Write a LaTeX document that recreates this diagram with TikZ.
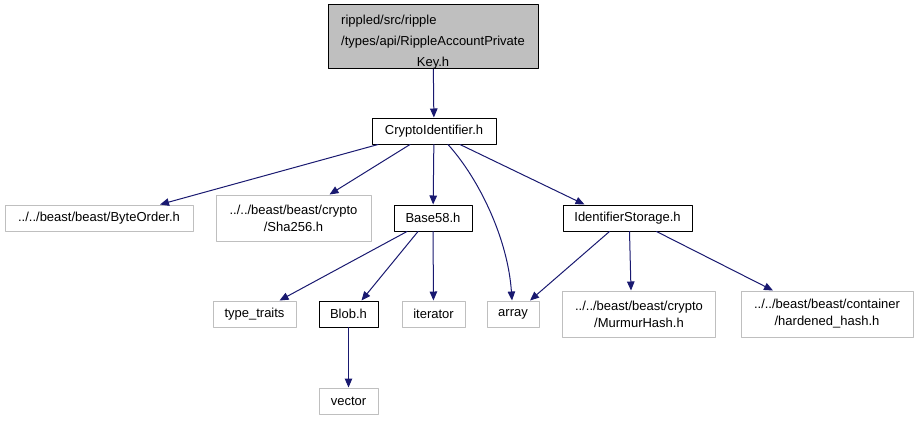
\documentclass[tikz,border=0pt]{standalone}
\usepackage{fontspec}
\setmainfont{Liberation Sans}
\usetikzlibrary{arrows.meta}
\definecolor{edgeblue}{HTML}{191970}
\definecolor{extgray}{HTML}{BFBFBF}

\begin{document}
\begin{tikzpicture}[x=1pt,y=-1pt,>={Triangle[length=9pt,width=7.5pt]},
    line cap=round,line join=round,
    hdr/.style={draw=black,line width=1pt,inner sep=0pt,align=center,
      font=\fontsize{13}{17}\selectfont},
    ext/.style={hdr,draw=extgray},
    dep/.style={->,draw=edgeblue,line width=1pt}]
    \useasboundingbox (0,0) rectangle (917,421);

    % The file whose includes are shown sits on top, shaded.
    \node[hdr,fill=extgray,minimum width=210,minimum height=63,
      font=\fontsize{13}{21}\selectfont] (key) at (433,36.5)
      {\rule{0pt}{20pt}\rlap{rippled/src/ripple}\phantom{/types/api/RippleAccountPrivate}\\
       /types/api/RippleAccountPrivate\\Key.h};
    \node[hdr,minimum width=124,minimum height=26] (crypto) at (434,131)
      {CryptoIdentifier.h};

    % second row
    \node[ext,minimum width=188,minimum height=26] (byteorder) at (99,218)
      {../../beast/beast/ByteOrder.h};
    \node[ext,minimum width=155,minimum height=46] (sha) at (293.5,218)
      {../../beast/beast/crypto\\/Sha256.h};
    \node[hdr,minimum width=78,minimum height=26] (base) at (433,218)
      {Base58.h};
    \node[hdr,minimum width=129,minimum height=26] (store) at (627.5,218)
      {IdentifierStorage.h};

    % third row, mostly system headers
    \node[ext,minimum width=83,minimum height=26] (traits) at (254.5,314)
      {type\_traits};
    \node[hdr,minimum width=59,minimum height=26] (blob) at (348.5,314)
      {Blob.h};
    \node[ext,minimum width=63,minimum height=26] (iter) at (433.5,314)
      {iterator};
    \node[ext,minimum width=52,minimum height=26] (array) at (513,314)
      {array};
    \node[ext,minimum width=153,minimum height=46] (murmur) at (639,314)
      {../../beast/beast/crypto\\/MurmurHash.h};
    \node[ext,minimum width=172,minimum height=46] (hardened) at (827,314)
      {../../beast/beast/container\\/hardened\_hash.h};
    \node[ext,minimum width=59,minimum height=26] (vector) at (348.5,401)
      {vector};

    \draw[dep] (key) -- (crypto);
    \draw[dep] ([xshift=-56pt]crypto.south) -- ([xshift=61pt]byteorder.north);
    \draw[dep] ([xshift=-24pt]crypto.south) -- ([xshift=36pt]sha.north);
    \draw[dep] (crypto) -- (base);
    \draw[dep] ([xshift=14pt]crypto.south) .. controls (480,180) and (508,240)
      .. ([xshift=-1pt]array.north);
    \draw[dep] ([xshift=26pt]crypto.south) -- ([xshift=-43pt]store.north);

    \draw[dep] ([xshift=-26pt]base.south) -- ([xshift=25pt]traits.north);
    \draw[dep] ([xshift=-15pt]base.south) -- ([xshift=13pt]blob.north);
    \draw[dep] (base) -- (iter);
    \draw[dep] ([xshift=-18pt]store.south) -- ([xshift=17pt]array.north);
    \draw[dep] ([xshift=2pt]store.south) -- ([xshift=-8pt]murmur.north);
    \draw[dep] ([xshift=29pt]store.south) -- ([xshift=-54pt]hardened.north);
    \draw[dep] (blob) -- (vector);
  \end{tikzpicture}
\end{document}
